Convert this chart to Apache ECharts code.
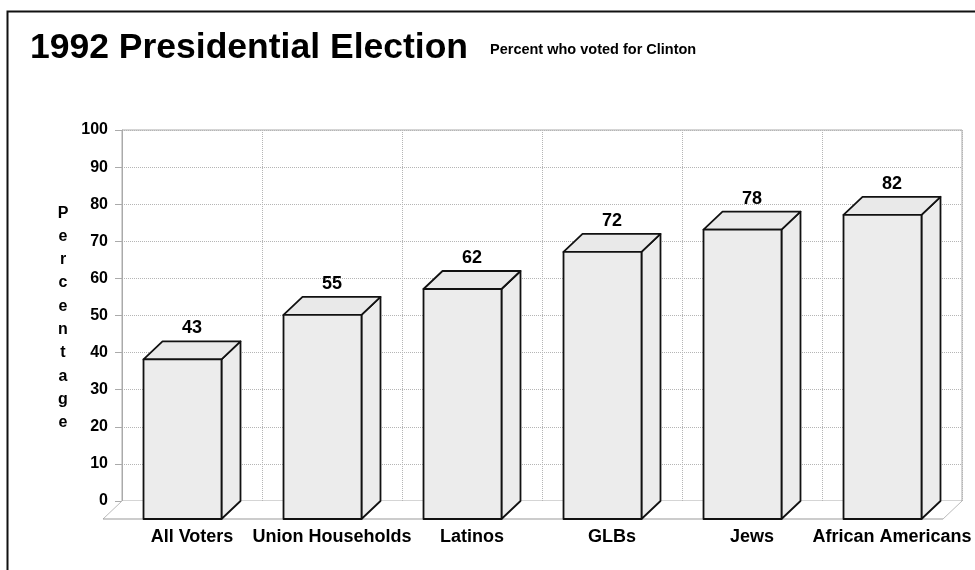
<!DOCTYPE html>
<html>
<head>
<meta charset="utf-8">
<script src="https://cdn.jsdelivr.net/npm/echarts@6/dist/echarts.min.js"></script>
<style>
html,body{margin:0;padding:0;background:#fff;}
#chart{width:975px;height:570px;}
</style>
</head>
<body>
<div id="chart"></div>
<script>
const categories = ['All Voters', 'Union Households', 'Latinos', 'GLBs', 'Jews', 'African Americans'];
const values = [43, 55, 62, 72, 78, 82];
const yTicks = [0, 10, 20, 30, 40, 50, 60, 70, 80, 90, 100];
const titleText = '1992 Presidential Election';
const subtitleText = 'Percent who voted for Clinton';
const yAxisName = 'Percentage';

const FONT = "'Liberation Sans', Arial, sans-serif";
const DX = 19, DY = 18, BAR_FRAC = 0.557;

const chart = echarts.init(document.getElementById('chart'), null, {renderer: 'canvas'});

function renderBar(params, api) {
  const i = api.value(0);
  const v = api.value(1);
  const top = api.coord([i, v]);
  const base = api.coord([i, 0]);
  const band = api.size([1, 0])[0];
  const w = band * BAR_FRAC;
  const cx = top[0];
  const x0 = cx - DX / 2 - w / 2;
  const x1 = x0 + w;
  const yF = top[1] + DY;
  const yB = base[1] + DY;
  const stroke = {stroke: '#111', lineWidth: 1.8, lineJoin: 'round'};
  return {
    type: 'group',
    children: [
      {type: 'polygon', shape: {points: [[x1, yF], [x1 + DX, yF - DY], [x1 + DX, yB - DY], [x1, yB]]},
        style: Object.assign({fill: '#ececec'}, stroke)},
      {type: 'polygon', shape: {points: [[x0, yF], [x0 + DX, yF - DY], [x1 + DX, yF - DY], [x1, yF]]},
        style: Object.assign({fill: '#e9e9e9'}, stroke)},
      {type: 'rect', shape: {x: x0, y: yF, width: w, height: yB - yF},
        style: Object.assign({fill: '#ececec'}, stroke)},
      {type: 'text', x: cx, y: top[1] - 4,
        style: {text: String(v), fill: '#000', font: 'bold 18px ' + FONT, textAlign: 'center', textVerticalAlign: 'bottom'}}
    ]
  };
}

function renderFloor(params, api) {
  const cs = params.coordSys;
  const yb = cs.y + cs.height;
  const xl = cs.x, xr = cs.x + cs.width;
  return {
    type: 'group',
    children: [
      {type: 'polygon', shape: {points: [[xl, yb], [xr, yb], [xr - DX, yb + DY], [xl - DX, yb + DY]]},
        style: {fill: '#fff', stroke: null}},
      {type: 'line', shape: {x1: xl, y1: yb, x2: xl - DX, y2: yb + DY}, style: {stroke: '#bbb', lineWidth: 1}},
      {type: 'line', shape: {x1: xr, y1: yb, x2: xr - DX, y2: yb + DY}, style: {stroke: '#bbb', lineWidth: 1}},
      {type: 'line', shape: {x1: xl - DX, y1: yb + DY, x2: xr - DX, y2: yb + DY}, style: {stroke: '#999', lineWidth: 1.2}}
    ]
  };
}

const option = {
  backgroundColor: '#fff',
  animation: false,
  title: [
    {text: titleText, left: 25, top: 25, textStyle: {fontFamily: FONT, fontWeight: 'bold', fontSize: 35.5, color: '#000'}},
    {text: subtitleText, left: 485, top: 37, textStyle: {fontFamily: FONT, fontWeight: 'bold', fontSize: 14.5, color: '#000'}}
  ],
  graphic: [
    {type: 'rect', left: 5, top: 9, shape: {width: 1000, height: 600}, style: {fill: null, stroke: '#111', lineWidth: 2}, silent: true, z: -10},
    {type: 'text', x: 63, y: 318, style: {text: yAxisName.split('').join('\n'), font: 'bold 16px ' + FONT, fill: '#000', textAlign: 'center', textVerticalAlign: 'middle', lineHeight: 23.3}}
  ],
  grid: {left: 122, right: 13, top: 130, bottom: 69, show: true, borderColor: '#aaa', borderWidth: 1, backgroundColor: 'transparent'},
  xAxis: {
    type: 'category',
    data: categories,
    boundaryGap: true,
    axisLine: {show: false},
    axisTick: {show: false},
    axisLabel: {margin: 27, fontFamily: FONT, fontWeight: 'bold', fontSize: 18, color: '#000', interval: 0},
    splitLine: {show: true, interval: 0, lineStyle: {type: 'dotted', color: '#b5b5b5', width: 1}}
  },
  yAxis: {
    type: 'value',
    min: yTicks[0],
    max: yTicks[yTicks.length - 1],
    interval: yTicks[1] - yTicks[0],
    axisLine: {show: true, lineStyle: {color: '#aaa'}},
    axisTick: {show: true, length: 7, lineStyle: {color: '#aaa'}},
    axisLabel: {margin: 14, fontFamily: FONT, fontWeight: 'bold', fontSize: 16, color: '#000'},
    splitLine: {show: true, lineStyle: {type: 'dotted', color: '#b5b5b5', width: 1}}
  },
  series: [
    {type: 'custom', name: 'floor', renderItem: renderFloor, data: [[0, 0]], z: 1, silent: true},
    {type: 'custom', name: 'Percent', renderItem: renderBar, encode: {x: 0, y: 1},
      data: values.map((v, i) => [i, v]), z: 3}
  ]
};
chart.setOption(option);
</script>
</body>
</html>
